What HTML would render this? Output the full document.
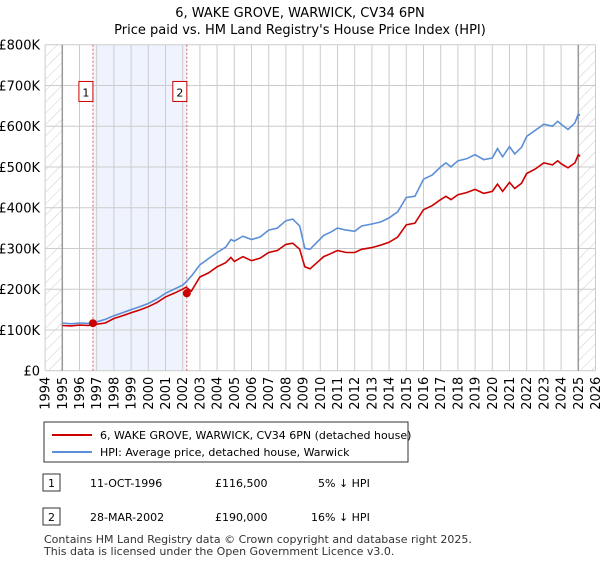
<!DOCTYPE html>
<html><head><meta charset="utf-8"><style>
body{margin:0;width:600px;height:560px;background:#fff;font-family:"Liberation Sans","DejaVu Sans",sans-serif;overflow:hidden}
text{font-family:"DejaVu Sans","Liberation Sans",sans-serif}
</style></head><body>
<svg id="c" width="600" height="560">
<defs><pattern id="h" width="8" height="8" patternUnits="userSpaceOnUse" patternTransform="rotate(45)"><line x1="0" y1="0" x2="0" y2="8" stroke="#ccc" stroke-width="1"/></pattern></defs>
<text x="300" y="17" text-anchor="middle" font-size="13">6, WAKE GROVE, WARWICK, CV34 6PN</text>
<text x="300" y="34" text-anchor="middle" font-size="13">Price paid vs. HM Land Registry's House Price Index (HPI)</text>
<g id="plot"></g>
<rect x="44" y="422" width="364" height="40" fill="#fff" stroke="#333"/>
<line x1="52" y1="435" x2="92" y2="435" stroke="#cc0000" stroke-width="2"/>
<text x="100" y="439" font-size="11">6, WAKE GROVE, WARWICK, CV34 6PN (detached house)</text>
<line x1="52" y1="452" x2="92" y2="452" stroke="#5b8fd6" stroke-width="2"/>
<text x="100" y="456" font-size="11">HPI: Average price, detached house, Warwick</text>
<rect x="43" y="474" width="17" height="17" fill="#fff" stroke="#333"/>
<text x="51.5" y="487" font-size="11" text-anchor="middle">1</text>
<text x="90" y="487" font-size="11">11-OCT-1996</text>
<text x="215" y="487" font-size="11">£116,500</text>
<text x="318" y="487" font-size="11">5% ↓ HPI</text>
<rect x="43" y="508" width="17" height="17" fill="#fff" stroke="#333"/>
<text x="51.5" y="521" font-size="11" text-anchor="middle">2</text>
<text x="90" y="521" font-size="11">28-MAR-2002</text>
<text x="215" y="521" font-size="11">£190,000</text>
<text x="311" y="521" font-size="11">16% ↓ HPI</text>
<text x="44" y="543" font-size="11" fill="#333">Contains HM Land Registry data © Crown copyright and database right 2025.</text>
<text x="44" y="555" font-size="11" fill="#333">This data is licensed under the Open Government Licence v3.0.</text>
</svg>
<script>
const years=[1995,1995.5,1996,1996.5,1997,1997.5,1998,1998.5,1999,1999.5,2000,2000.5,2001,2001.5,2002,2002.2,2002.5,2003,2003.5,2004,2004.5,2004.8,2005,2005.5,2006,2006.5,2007,2007.5,2008,2008.4,2008.8,2009.1,2009.4,2009.8,2010.2,2010.6,2011,2011.5,2012,2012.4,2013,2013.5,2014,2014.5,2015,2015.5,2016,2016.5,2017,2017.3,2017.6,2018,2018.5,2019,2019.5,2020,2020.3,2020.6,2021,2021.3,2021.7,2022,2022.5,2023,2023.5,2023.8,2024,2024.4,2024.8,2025,2025.1];
const hpi=[117,115,117,116,120,126,135,142,150,157,165,176,190,200,210,218,232,260,275,290,303,322,318,330,322,328,345,350,368,372,355,300,298,315,332,340,350,345,342,355,360,365,375,390,425,428,470,480,500,510,500,515,520,530,518,522,545,525,550,532,548,575,590,605,600,612,605,592,608,630,626];
const paid=[111,110,112,111,114,117,128,135,142,149,157,167,181,190,200,205,195,230,240,255,265,278,268,280,270,276,290,295,310,313,298,255,250,265,280,287,295,290,290,298,302,308,315,328,358,362,395,405,420,428,420,432,437,445,435,440,458,440,462,447,460,484,495,510,505,515,508,498,510,530,526];
const saleYears=[1996.78,2002.24];
const salePrices=[116.5,190];
const yTicks=[0,100,200,300,400,500,600,700,800];
const yLabels=["£0","£100K","£200K","£300K","£400K","£500K","£600K","£700K","£800K"];
const xTicks=[1994,1995,1996,1997,1998,1999,2000,2001,2002,2003,2004,2005,2006,2007,2008,2009,2010,2011,2012,2013,2014,2015,2016,2017,2018,2019,2020,2021,2022,2023,2024,2025,2026];
const X=y=>45.1+(y-1994)*17.2, Y=v=>370.7-v*0.4075;
const NS="http://www.w3.org/2000/svg", g=document.getElementById('plot');
function mk(t,a,p){const e=document.createElementNS(NS,t);for(const k in a)e.setAttribute(k,a[k]);(p||g).appendChild(e);return e;}
let e;
e=mk('rect',{x:X(saleYears[0]),y:Y(800),width:X(saleYears[1])-X(saleYears[0]),height:Y(0)-Y(800),fill:'#eef3fd'});


e=mk('rect',{x:X(1994),y:Y(800),width:X(1995)-X(1994),height:Y(0)-Y(800),fill:'url(#h)'});


e=mk('rect',{x:X(2025),y:Y(800),width:X(2026)-X(2025),height:Y(0)-Y(800),fill:'url(#h)'});


yTicks.forEach((v,i)=>{
 e=mk('line',{x1:X(1994),x2:X(2026),y1:Y(v),y2:Y(v),stroke:'#ccc'});
 
 
 e=mk('text',{x:40,y:Y(v)+5,'text-anchor':'end','font-size':13});e.textContent=yLabels[i];
 
 
});
xTicks.forEach(y=>{
 e=mk('line',{x1:X(y),x2:X(y),y1:Y(800),y2:Y(0),stroke:'#ccc'});
 
 
 e=mk('text',{x:0,y:0,'text-anchor':'end','font-size':13,transform:`translate(${X(y)+4.5},${Y(0)+6}) rotate(-90)`});e.textContent=y;
 
 
});
[1995,2025].forEach(y=>{e=mk('line',{x1:X(y),x2:X(y),y1:Y(800),y2:Y(0),stroke:'#999','stroke-width':1.5});
 
 });
saleYears.forEach((s,i)=>{
 e=mk('line',{x1:X(s),x2:X(s),y1:Y(800),y2:Y(0),stroke:'#e06060','stroke-dasharray':'2,2'});
 
 
 e=mk('rect',{x:X(s)-14,y:Y(700)-4,width:14,height:20,fill:'#fff',stroke:'#cc0000'});
 
 
 e=mk('text',{x:X(s)-7,y:Y(700)+11,'text-anchor':'middle','font-size':11});e.textContent=i+1;
 
 
});
const pts=a=>years.map((y,i)=>X(y).toFixed(1)+','+Y(a[i]).toFixed(1)).join(' ');
e=mk('polyline',{points:pts(hpi),fill:'none',stroke:'#5b8fd6','stroke-width':1.6});


e=mk('polyline',{points:pts(paid),fill:'none',stroke:'#cc0000','stroke-width':1.6});


saleYears.forEach((s,i)=>{e=mk('circle',{cx:X(s),cy:Y(salePrices[i]),r:4,fill:'#cc0000'});
 
 });
</script>
</body></html>
